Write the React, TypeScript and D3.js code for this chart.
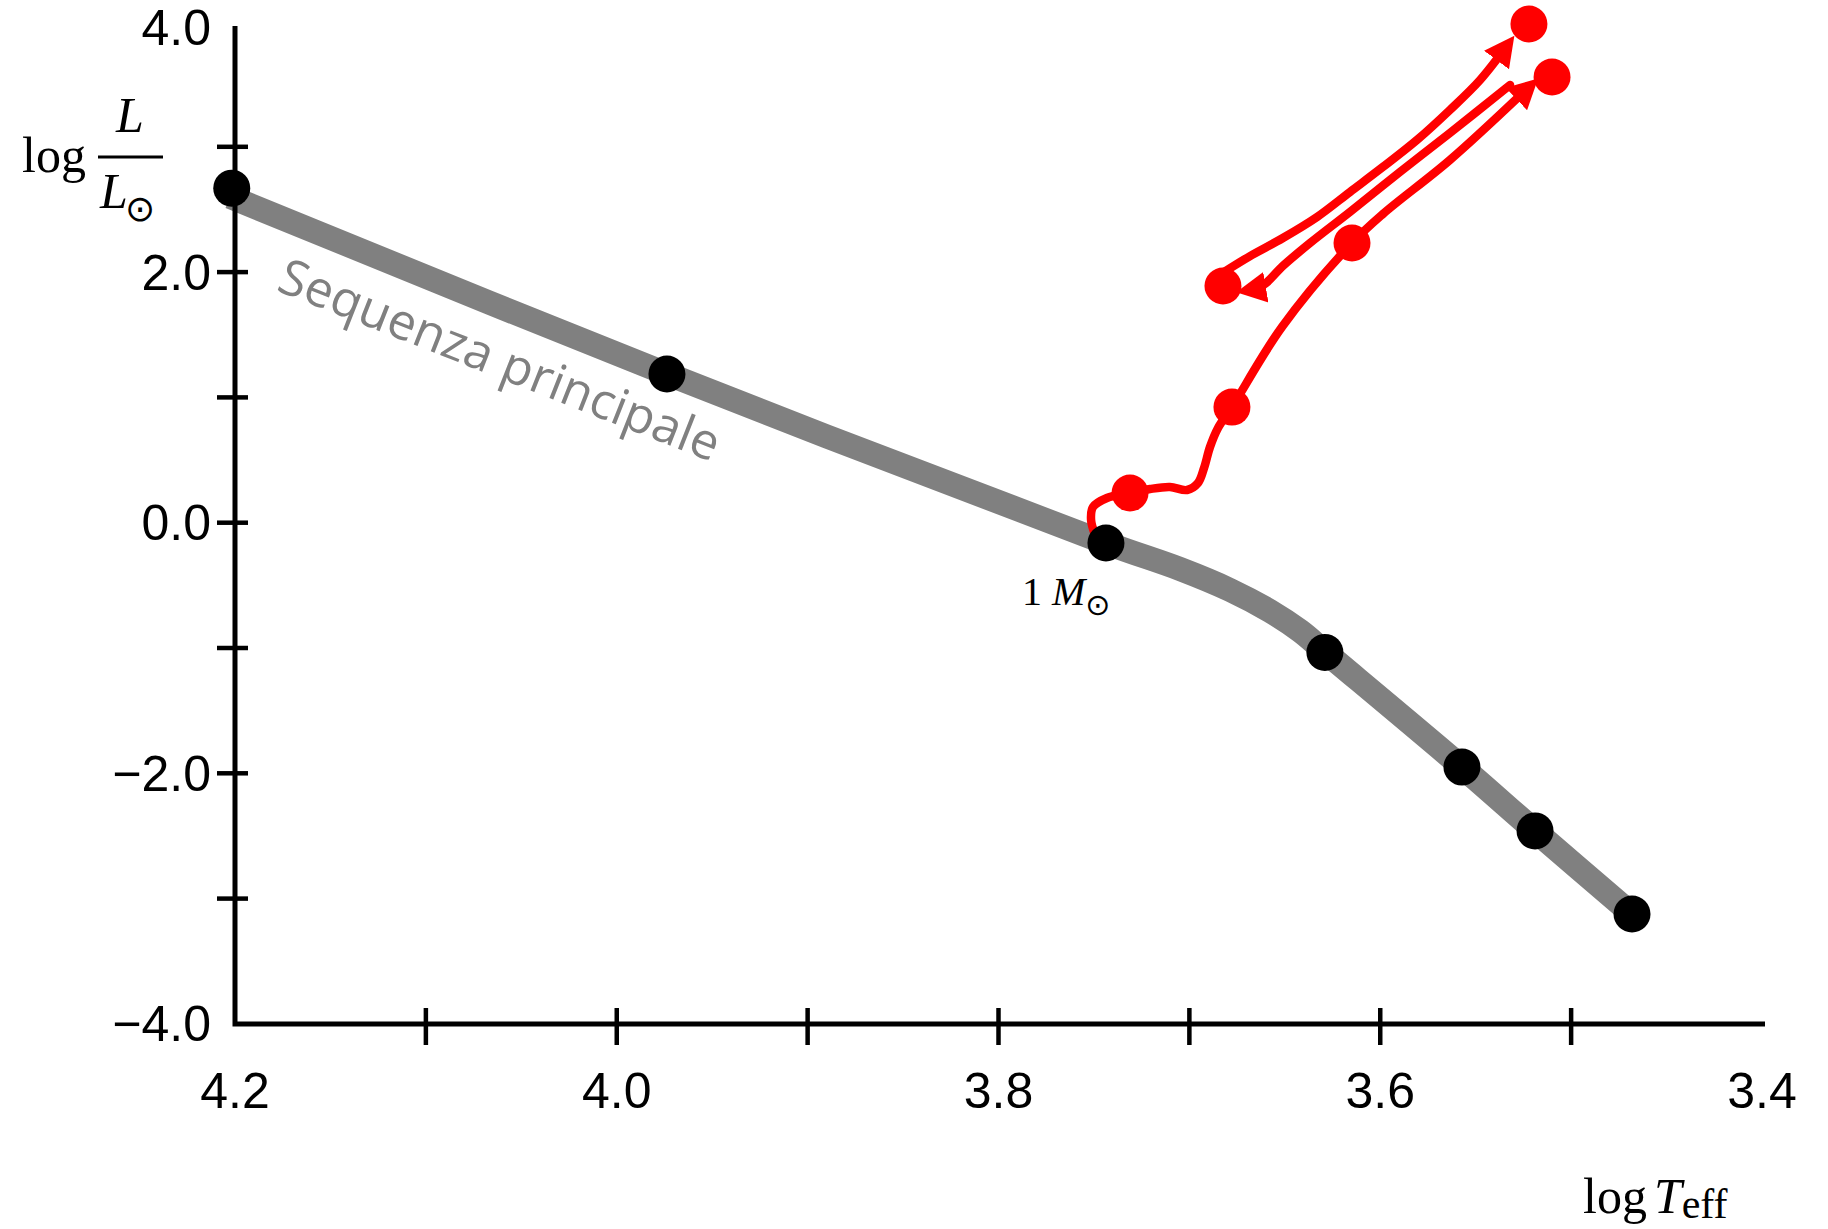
import * as d3 from 'd3';

const W = 1828;
const H = 1229;

// axis ticks
const xTickValues = [4.1, 4.0, 3.9, 3.8, 3.7, 3.6, 3.5];
const xLabelValues = [4.2, 4.0, 3.8, 3.6, 3.4];
const yTickValues = [-3, -2, -1, 0, 1, 2, 3];
const yLabelValues = [-4, -2, 0, 2, 4];

// main sequence band (log Teff, log L/Lsun)
const msTeff = [4.2026, 3.9737, 3.7437, 3.7049, 3.6787, 3.6578, 3.642, 3.6289, 3.5572, 3.5189, 3.4681];
const msLum = [2.6, 1.187, -0.162, -0.37, -0.537, -0.705, -0.864, -1.032, -1.95, -2.46, -3.123];

// stars on the main sequence
const starTeff = [4.2017, 3.9737, 3.7437, 3.629, 3.5572, 3.5189, 3.4681];
const starLum = [2.67, 1.187, -0.162, -1.035, -1.95, -2.46, -3.123];

// 1 Msun evolutionary track: red giant branch
const rgbTeff = [3.7494, 3.7515, 3.7505, 3.7432, 3.7311, 3.7206, 3.7102, 3.7012, 3.6955, 3.6923, 3.6892, 3.685, 3.6777, 3.6515, 3.6148, 3.5986, 3.5635, 3.5226];
const rgbLum = [-0.098, 0.022, 0.125, 0.197, 0.237, 0.269, 0.285, 0.261, 0.317, 0.437, 0.604, 0.756, 0.923, 1.562, 2.232, 2.464, 2.895, 3.469];

// back to the horizontal branch
const hbTeff = [3.532, 3.5635, 3.5897, 3.6159, 3.6368, 3.651, 3.6599, 3.664, 3.6682];
const hbLum = [3.493, 3.11, 2.799, 2.48, 2.232, 2.049, 1.911, 1.873, 1.857];

// asymptotic giant branch
const agbTeff = [3.6819, 3.6682, 3.651, 3.6331, 3.6159, 3.5986, 3.5808, 3.5635, 3.5477, 3.5341];
const agbLum = [2.0, 2.128, 2.272, 2.44, 2.639, 2.839, 3.054, 3.294, 3.533, 3.796];

// stages along the track
const stageTeff = [3.7311, 3.6777, 3.6148, 3.51, 3.6824, 3.5221];
const stageLum = [0.237, 0.923, 2.232, 3.557, 1.889, 3.98];

const x = d3.scaleLinear().domain([4.2, 3.4]).range([235, 1762]);
const y = d3.scaleLinear().domain([-4, 4]).range([1023.9, 21.5]);

const pathOf = (T: number[], L: number[]) =>
  d3.line<number>()
    .x(i => x(T[i]))
    .y(i => y(L[i]))
    .curve(d3.curveCatmullRom.alpha(0.5))(d3.range(T.length)) || '';

const sans = '"Liberation Sans", Arial, sans-serif';
const serif = '"Liberation Serif", "Times New Roman", serif';
const sym = '"DejaVu Sans", sans-serif';

export default function App() {
  const axisTop = 26;
  const axisBottom = 1024;
  const axisRight = 1765;
  return (
    <svg width={W} height={H} style={{ position: 'absolute', left: 0, top: 0, background: '#fff' }}>
      <defs>
        <marker id="arrow" markerUnits="userSpaceOnUse" markerWidth={32} markerHeight={34}
          viewBox="0 -17 32 34" refX={16} refY={0} orient="auto">
          <path d="M0,-15.5L30,0L0,15.5Z" fill="#ff0000" />
        </marker>
      </defs>

      {/* main sequence */}
      <path d={pathOf(msTeff, msLum)} fill="none" stroke="#808080" strokeWidth={24} />

      {/* axes */}
      <path d={`M${x(4.2)},${axisTop}V${axisBottom}H${axisRight}`} fill="none" stroke="#000" strokeWidth={5} />
      {yTickValues.map(v => (
        <line key={v} x1={x(4.2) - 18} x2={x(4.2) + 13} y1={y(v)} y2={y(v)} stroke="#000" strokeWidth={4.5} />
      ))}
      {xTickValues.map(v => (
        <line key={v} x1={x(v)} x2={x(v)} y1={axisBottom - 16} y2={axisBottom + 21} stroke="#000" strokeWidth={4.5} />
      ))}
      {yLabelValues.map(v => (
        <text key={v} x={211} y={Math.max(y(v), axisTop + 1) + 17.5} textAnchor="end"
          fontFamily={sans} fontSize={50}>
          {(v < 0 ? '\u2212' : '') + Math.abs(v).toFixed(1)}
        </text>
      ))}
      {xLabelValues.map(v => (
        <text key={v} x={x(v)} y={1108} textAnchor="middle" fontFamily={sans} fontSize={50}>
          {v.toFixed(1)}
        </text>
      ))}

      {/* axis titles */}
      <g fontFamily={serif} fontSize={50}>
        <text x={22} y={172}>log</text>
        <text x={130} y={132} textAnchor="middle" fontStyle="italic">L</text>
        <line x1={98} x2={163} y1={157} y2={157} stroke="#000" strokeWidth={3} />
        <text x={100} y={208} fontStyle="italic">L</text>
        <text x={125} y={221} fontFamily={sym} fontSize={36}>⊙</text>
        <text x={1583} y={1213}>
          log<tspan dx={7} fontStyle="italic">T</tspan><tspan fontSize={42} dy={5}>eff</tspan>
        </text>
      </g>

      <text transform="translate(275,290) rotate(21.5)" fontFamily='"Open Sans", sans-serif' fontSize={50} fill="#808080">
        Sequenza principale
      </text>

      {/* evolutionary track */}
      <g fill="none" stroke="#ff0000" strokeWidth={8.5} strokeLinecap="round" strokeLinejoin="round">
        <path d={pathOf(rgbTeff, rgbLum)} markerEnd="url(#arrow)" />
        <path d={pathOf(hbTeff, hbLum)} markerEnd="url(#arrow)" />
        <path d={pathOf(agbTeff, agbLum)} markerEnd="url(#arrow)" />
      </g>

      {starTeff.map((t, i) => (
        <circle key={i} cx={x(t)} cy={y(starLum[i])} r={18.5} fill="#000" />
      ))}
      {stageTeff.map((t, i) => (
        <circle key={i} cx={x(t)} cy={y(stageLum[i])} r={18.5} fill="#ff0000" />
      ))}

      <text x={1022} y={605} fontFamily={serif} fontSize={40}>
        1 <tspan fontStyle="italic">M</tspan>
        <tspan fontFamily={sym} fontSize={30} dy={10}>⊙</tspan>
      </text>
    </svg>
  );
}
